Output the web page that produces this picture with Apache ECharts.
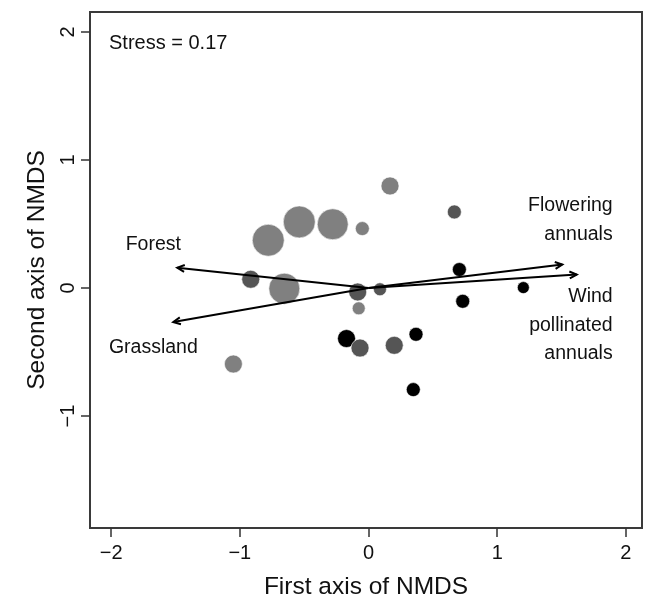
<!DOCTYPE html>
<html lang="en">
<head>
    <meta charset="UTF-8">
    <title>NMDS</title>
    <script src="https://cdn.jsdelivr.net/npm/echarts@6/dist/echarts.min.js"></script>
    <style>
        *{
            padding:0;
            margin:0;
        }
        html,body{
            height:100%;
            background:#fff;
        }
        #main{
            width:645px;
            height:602px;
        }
    </style>
</head>
<body>
<div id="main"></div>
<script>
    // site scores (NMDS1, NMDS2), bubble diameter and shade group
    var siteX = [-0.779, -0.538, -0.278, -0.048, -0.915, -0.654, -1.050, 0.167, -0.076, -0.084, 0.089,
                 -0.171, -0.066, 0.200, 0.369, 0.348, 0.667, 0.706, 0.732, 1.203];
    var siteY = [0.373, 0.516, 0.498, 0.464, 0.068, -0.005, -0.594, 0.797, -0.159, -0.031, -0.010,
                 -0.395, -0.469, -0.448, -0.362, -0.794, 0.594, 0.144, -0.104, 0.003];
    var siteSize = [32, 32, 31, 14, 18, 31, 18, 18, 13, 18, 13,
                    18, 18, 18, 14, 14, 14, 14, 14, 12];
    var siteShade = ['g', 'g', 'g', 'g', 'd', 'g', 'g', 'g', 'g', 'd', 'd',
                     'k', 'd', 'd', 'k', 'k', 'd', 'k', 'k', 'k'];
    var shadeColor = {g: '#808080', d: '#555555', k: '#000000'};

    // fitted vectors
    var vecNames = ['Forest', 'Grassland', 'Flowering annuals', 'Wind pollinated annuals'];
    var vecX = [-1.486, -1.517, 1.506, 1.618];
    var vecY = [0.159, -0.266, 0.183, 0.105];

    // vector label positions
    var labelText = ['Forest', 'Grassland', 'Flowering\nannuals', 'Wind\npollinated\nannuals'];
    var labelX = [-1.672, -1.672, 1.897, 1.897];
    var labelY = [0.339, -0.468, 0.529, -0.291];
    var labelAlign = ['center', 'center', 'right', 'right'];

    var tickVals = [-2, -1, 0, 1, 2];
    var yTickVals = [-1, 0, 1, 2];

    function fmt(v) {
        return v < 0 ? '\u2212' + Math.abs(v) : String(v);
    }

    var points = [];
    for (var i = 0; i < siteX.length; i++) {
        points.push({
            value: [siteX[i], siteY[i], siteSize[i]],
            itemStyle: {color: shadeColor[siteShade[i]], opacity: 1, borderColor: '#ffffff', borderWidth: 0.6}
        });
    }

    var vectors = [];
    for (var j = 0; j < vecX.length; j++) {
        vectors.push({name: vecNames[j], value: [vecX[j], vecY[j]]});
    }

    var labels = [];
    for (var k = 0; k < labelText.length; k++) {
        labels.push({
            value: [labelX[k], labelY[k]],
            label: {formatter: labelText[k], align: labelAlign[k]}
        });
    }

    var font = "'Liberation Sans', Arial, sans-serif";
    var txt = '#111';
    var myChart = echarts.init(document.getElementById('main'));
    var option = {
        animation: false,
        grid: {
            left: 90, right: 3, top: 12, bottom: 74,
            outerBoundsMode: 'none',
            containLabel: false,
            show: true, borderColor: '#3a3a3a', borderWidth: 2, backgroundColor: '#fff'
        },
        xAxis: {
            type: 'value',
            min: -2.164, max: 2.125,
            name: 'First axis of NMDS',
            nameLocation: 'middle',
            nameGap: 47,
            nameTextStyle: {fontSize: 24.5, color: txt, fontFamily: font},
            axisLine: {show: false, onZero: false},
            splitLine: {show: false},
            axisTick: {show: true, length: 9, customValues: tickVals, lineStyle: {color: '#333', width: 1.5}},
            axisLabel: {
                customValues: tickVals, formatter: fmt, margin: 15,
                fontSize: 20, color: txt, fontFamily: font
            }
        },
        yAxis: {
            type: 'value',
            min: -1.875, max: 2.156,
            name: 'Second axis of NMDS',
            nameLocation: 'middle',
            nameGap: 40,
            nameRotate: 90,
            nameTextStyle: {fontSize: 24.5, color: txt, fontFamily: font},
            axisLine: {show: false, onZero: false},
            splitLine: {show: false},
            axisTick: {show: true, length: 9, customValues: yTickVals, lineStyle: {color: '#333', width: 1.5}},
            axisLabel: {
                customValues: yTickVals, formatter: fmt, rotate: 90, margin: 12,
                fontSize: 20, color: txt, fontFamily: font
            }
        },
        graphic: [{
            type: 'text', left: 109, top: 33,
            style: {text: 'Stress = 0.17', fontSize: 20, fill: txt, fontFamily: font}
        }],
        series: [
            {
                type: 'scatter',
                data: points,
                symbolSize: function (v) { return v[2]; },
                itemStyle: {opacity: 1},
                z: 2
            },
            {
                type: 'custom',
                z: 3,
                data: vectors,
                renderItem: function (params, api) {
                    var o = api.coord([0, 0]);
                    var e = api.coord([api.value(0), api.value(1)]);
                    var ang = Math.atan2(e[1] - o[1], e[0] - o[0]);
                    var hl = 8, ha = 0.45;
                    var p1 = [e[0] - hl * Math.cos(ang - ha), e[1] - hl * Math.sin(ang - ha)];
                    var p2 = [e[0] - hl * Math.cos(ang + ha), e[1] - hl * Math.sin(ang + ha)];
                    var st = {stroke: '#000', lineWidth: 2, fill: null};
                    return {
                        type: 'group',
                        children: [
                            {type: 'line', shape: {x1: o[0], y1: o[1], x2: e[0], y2: e[1]}, style: st},
                            {type: 'polyline', shape: {points: [p1, e, p2]}, style: st}
                        ]
                    };
                }
            },
            {
                type: 'scatter',
                data: labels,
                symbolSize: 0,
                itemStyle: {opacity: 1},
                z: 4,
                label: {
                    show: true, position: 'inside',
                    fontSize: 19.5, lineHeight: 28.5, color: txt, fontFamily: font
                }
            }
        ]
    };
    myChart.setOption(option);
</script>
</body>
</html>
